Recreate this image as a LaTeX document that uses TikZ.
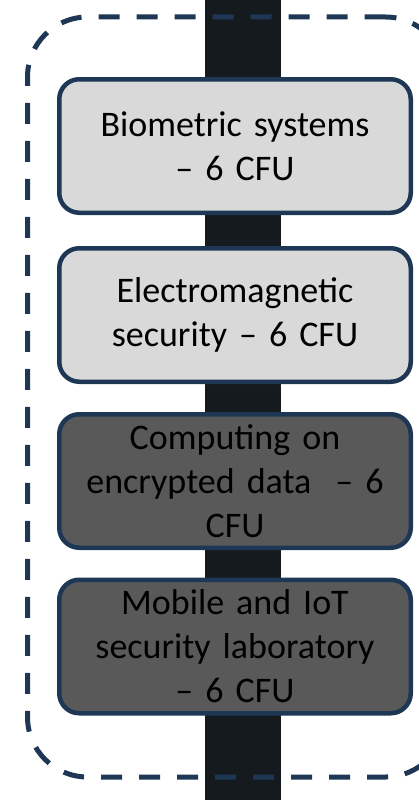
\documentclass[tikz,border=0pt]{standalone}
\usepackage{fontspec}
\setmainfont{Carlito}
\usepackage{tikz}
\usetikzlibrary{positioning}

\definecolor{framecol}{RGB}{30,55,85}
\definecolor{barcol}{RGB}{20,26,30}
\definecolor{lightbox}{RGB}{217,217,217}
\definecolor{darkbox}{RGB}{89,89,89}

\begin{document}
\begin{tikzpicture}[
      x=1pt,y=-1pt,
      mycourse/.style={
         rectangle,
         rounded corners=20pt,
         draw=framecol,
         line width=4.5pt,
         minimum width=351.5pt,
         minimum height=133.5pt,
         text width=340pt,
         align=center,
         inner sep=0pt,
         font=\fontsize{36}{44}\selectfont},
      mylight/.style={mycourse,fill=lightbox},
      mydark/.style={mycourse,fill=darkbox},
      mygroup/.style={
         rectangle,
         rounded corners=60pt,
         draw=framecol,
         line width=5pt,
         dash pattern=on 21pt off 17pt,
         minimum width=418pt,
         minimum height=760pt,
         inner sep=0pt}
      ]
      \useasboundingbox (0,0) rectangle (419,800);
      \clip (0,0) rectangle (419,800);
      \fill[barcol] (205,0) rectangle (281,800);
      \node[mygroup] (grp) at (236.5,397) {};
      \node[mylight] (c1) at (235,146) {Biometric systems\\ -- 6 CFU};
      \node[mylight] (c2) at (235,315) {Electromagnetic\\ security -- 6 CFU};
      \node[mydark] (c3) at (235,481) {Computing on\\ encrypted data~ -- 6\\ CFU};
      \node[mydark] (c4) at (235,646.5) {Mobile and IoT\\ security laboratory\\ -- 6 CFU};
\end{tikzpicture}
\end{document}
